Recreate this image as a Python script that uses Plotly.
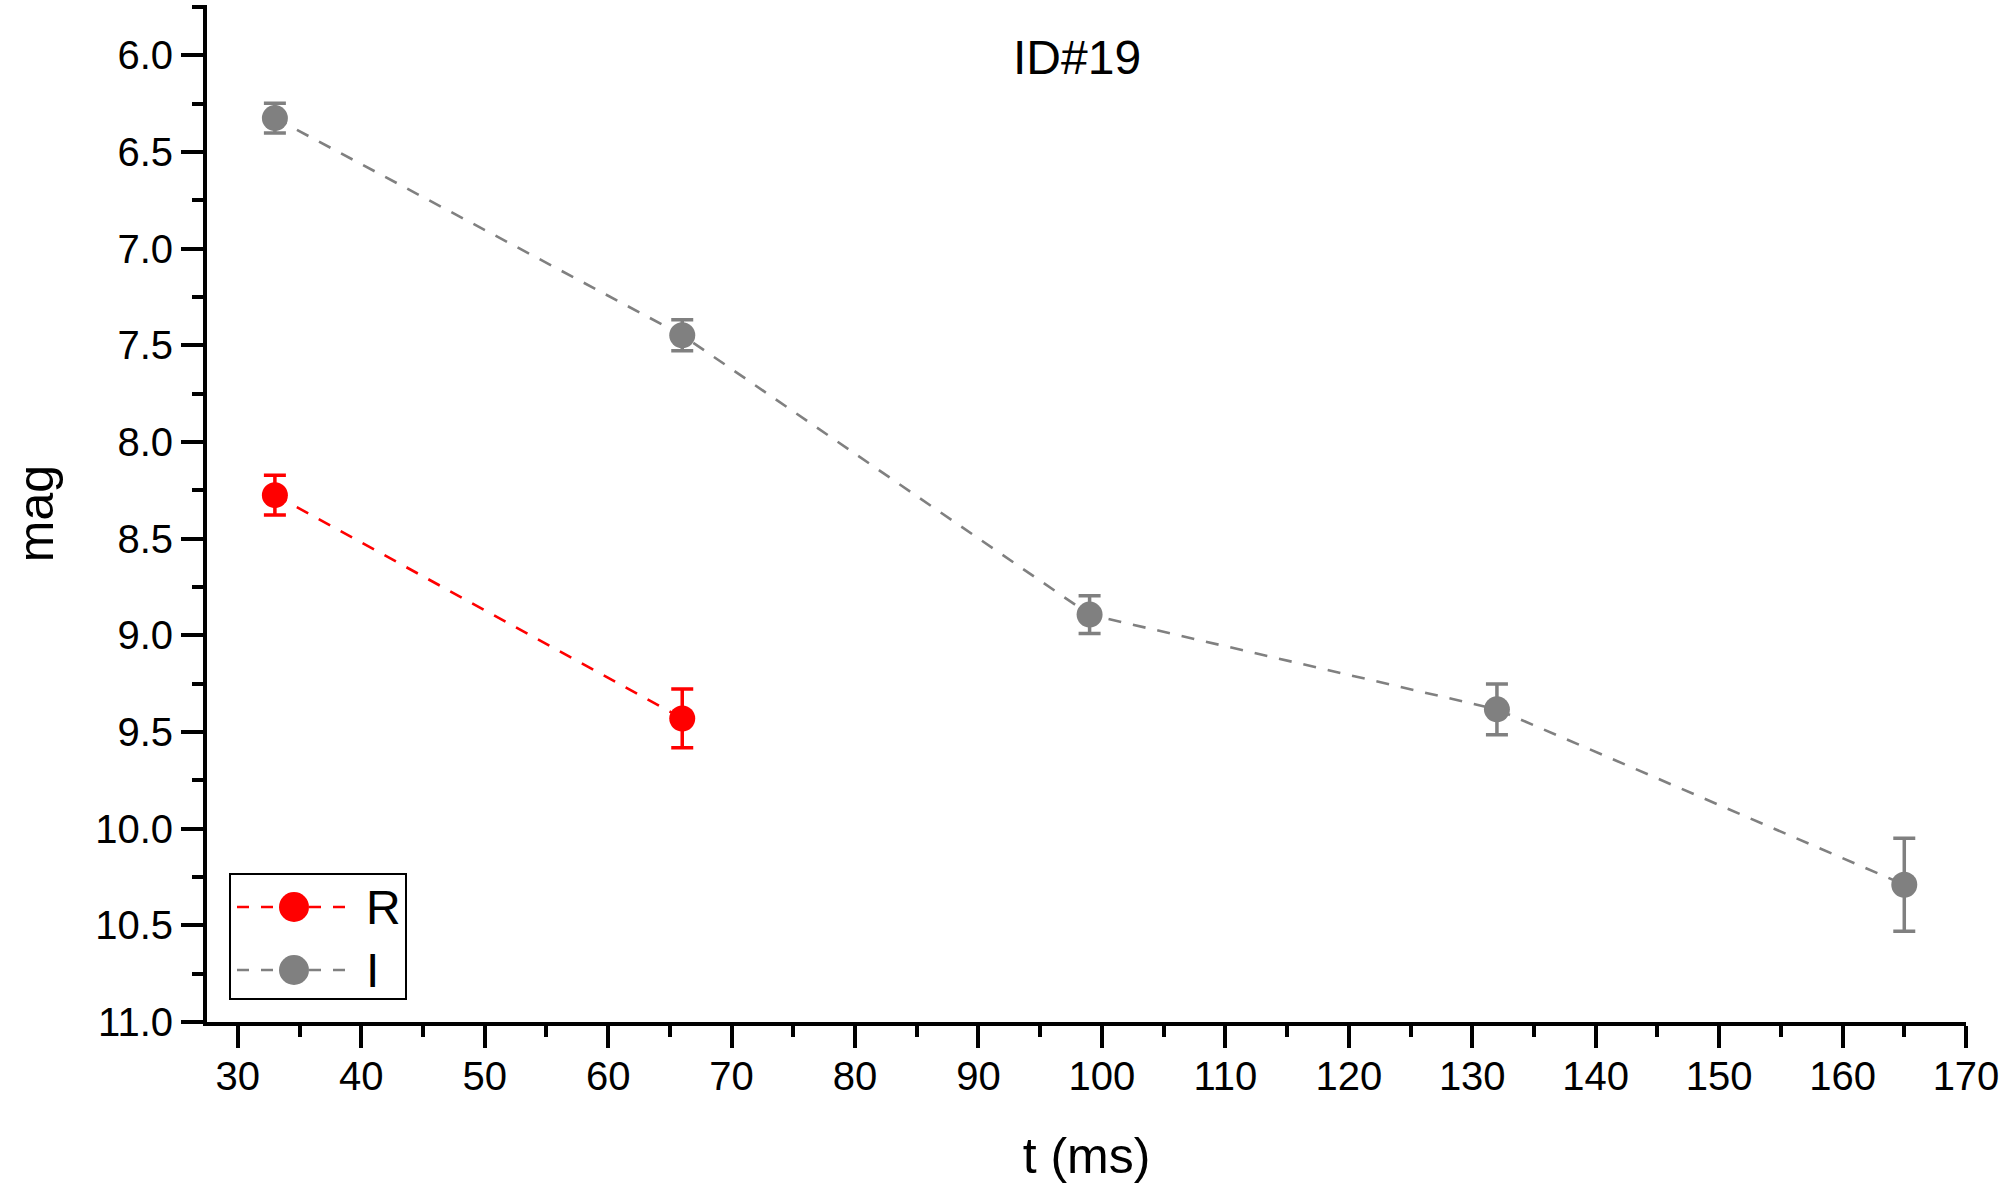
import plotly.graph_objects as go

# ---- data ----
r_t = [33, 66]
r_mag = [8.275, 9.43]
r_err = [0.103, 0.152]

i_t = [33, 66, 99, 132, 165]
i_mag = [6.325, 7.448, 8.893, 9.383, 10.29]
i_err = [0.077, 0.08, 0.098, 0.131, 0.24]

series_names = ["R", "I"]
series_colors = ["#FF0000", "#808080"]
chart_title = "ID#19"
x_title = "t (ms)"
y_title = "mag"

FONT = "Liberation Sans, Arial, sans-serif"
W, H = 2007, 1190
ML, MR, MT, MB = 207, 41, 5, 168

fig = go.Figure()
for name, xs, ys, es, col in [
    (series_names[0], r_t, r_mag, r_err, series_colors[0]),
    (series_names[1], i_t, i_mag, i_err, series_colors[1]),
]:
    fig.add_trace(go.Scatter(
        x=xs, y=ys, name=name, mode="lines+markers",
        line=dict(color=col, width=2.6, dash="13px,12px"),
        marker=dict(color=col, size=26, symbol="circle"),
        error_y=dict(type="data", array=es, visible=True, color=col,
                     thickness=3.5, width=11),
        showlegend=False,
    ))

# ---- custom legend (pixel helpers) ----
pw = W - ML - MR
ph = H - MT - MB
def px(xp):
    return (xp - ML) / pw
def py(yp):
    return (H - MB - yp) / ph

shapes = [dict(type="rect", xref="paper", yref="paper",
               x0=px(230), x1=px(406), y0=py(999), y1=py(874),
               line=dict(color="black", width=2), fillcolor="white", layer="above")]
annotations = []
for k, (name, col) in enumerate(zip(series_names, series_colors)):
    yc = [907, 970][k]
    shapes.append(dict(type="line", xref="paper", yref="paper",
                       x0=px(237), x1=px(350), y0=py(yc), y1=py(yc),
                       line=dict(color=col, width=2.6, dash="12px,12px"), layer="above"))
    shapes.append(dict(type="circle", xref="paper", yref="paper",
                       xsizemode="pixel", ysizemode="pixel",
                       xanchor=px(294), yanchor=py(yc),
                       x0=-15, x1=15, y0=-15, y1=15,
                       fillcolor=col, line=dict(color=col, width=0), layer="above"))
    annotations.append(dict(text=name, xref="paper", yref="paper",
                            x=px(364), y=py(yc), xanchor="left", yanchor="middle",
                            showarrow=False, font=dict(family=FONT, size=48, color="black")))

annotations.append(dict(text=chart_title, xref="paper", yref="paper",
                        x=px(1077), y=py(57), xanchor="center", yanchor="middle",
                        showarrow=False, font=dict(family=FONT, size=48, color="black")))

axis_common = dict(
    showline=True, linecolor="black", linewidth=4,
    ticks="outside", ticklen=22, tickwidth=4, tickcolor="black",
    showgrid=False, zeroline=False, mirror=False,
    tickfont=dict(family=FONT, size=40, color="black"),
)

fig.update_layout(
    width=W, height=H,
    margin=dict(l=ML, r=MR, t=MT, b=MB, pad=0),
    paper_bgcolor="white", plot_bgcolor="white",
    font=dict(family=FONT, color="black"),
    shapes=shapes, annotations=annotations,
    xaxis=dict(range=[27.5, 170], dtick=10, tick0=0,
               minor=dict(dtick=5, ticks="outside", ticklen=11, tickwidth=4, tickcolor="black"),
               ticklabelstandoff=-6,
               title=dict(text=x_title, font=dict(family=FONT, size=50), standoff=42),
               **axis_common),
    yaxis=dict(range=[11.0, 5.74], dtick=0.5, tick0=0, tickformat=".1f",
               minor=dict(dtick=0.25, ticks="outside", ticklen=11, tickwidth=4, tickcolor="black"),
               title=dict(text=y_title, font=dict(family=FONT, size=50), standoff=27),
               **axis_common),
)

fig.write_html(
    "out.html",
    config={"displayModeBar": False},
    post_script="document.body.style.margin='0';document.body.style.overflow='hidden';",
)
